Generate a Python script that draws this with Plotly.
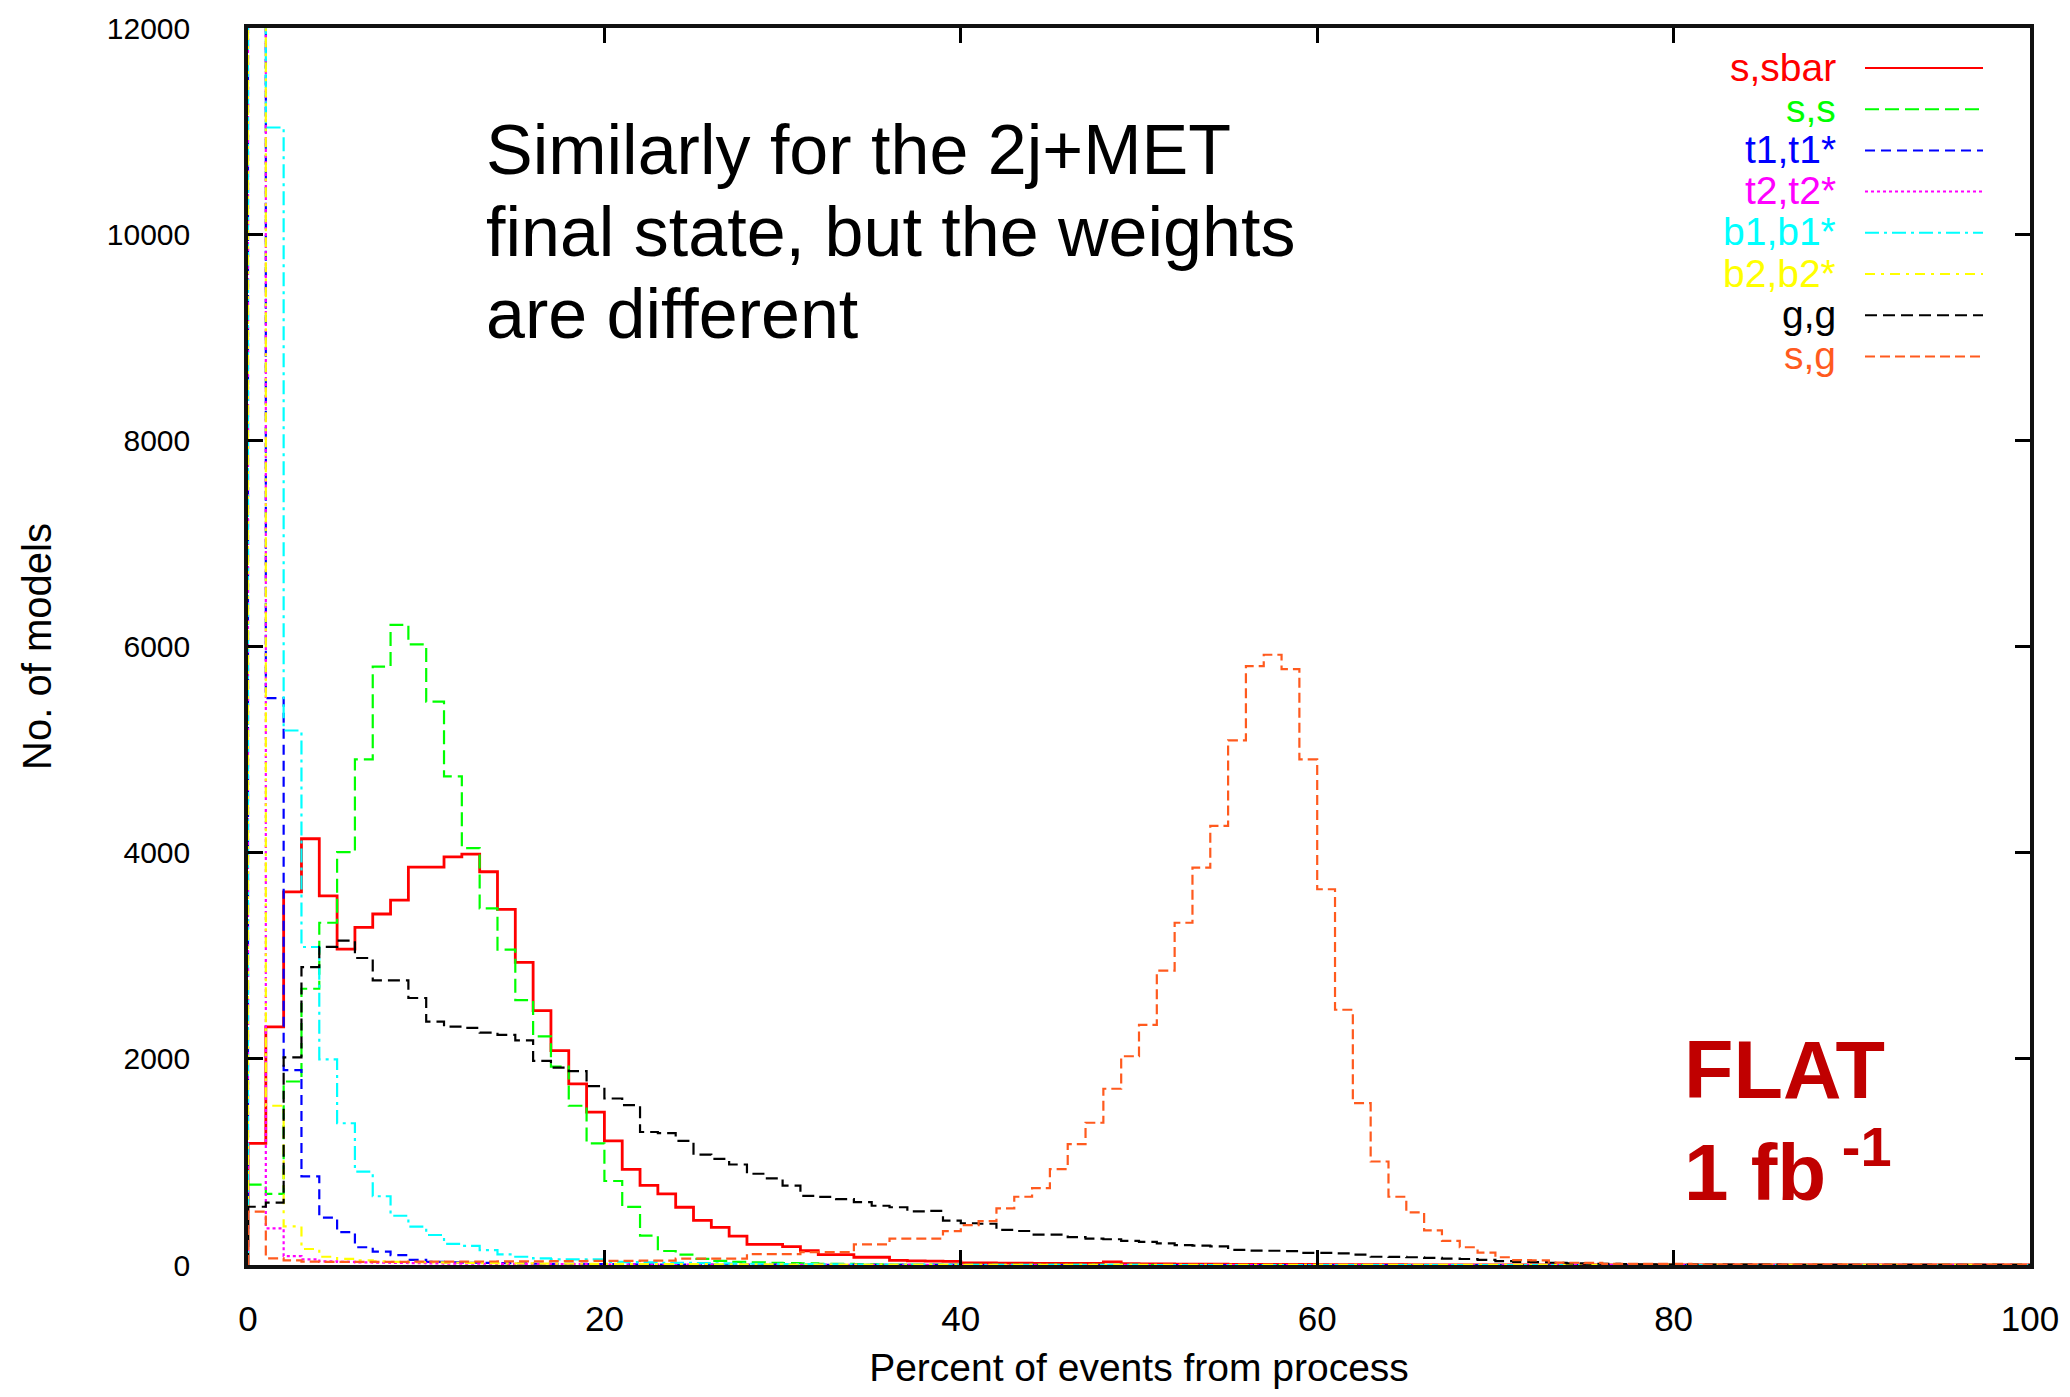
import plotly.graph_objects as go

# ---------------- data (bins of width 1 %, 0..100) ----------------
bin_edges = list(range(0, 101))

s_sbar = [1180, 2310, 3620, 4135, 3580, 3065, 3275, 3405, 3540, 3860,
          3860, 3960, 3985, 3815, 3450, 2935, 2467, 2080, 1758, 1483,
          1204, 928, 772, 690, 560, 432, 365, 280, 200, 200,
          178, 138, 100, 100, 75, 75, 45, 40, 38, 35,
          20, 20, 18, 18, 15, 15, 15, 15, 30, 12,
          10, 10, 8, 8, 8, 6, 6, 5, 5, 5,
          4, 4, 3, 3, 3, 2, 2, 2, 2, 1,
          1, 1, 1, 1, 1, 0, 0, 0, 0, 0,
          0, 0, 0, 0, 0, 0, 0, 0, 0, 0,
          0, 0, 0, 0, 0, 0, 0, 0, 0, 0]

s_s = [780, 690, 1780, 2680, 3320, 4005, 4905, 5805, 6210, 6020,
       5465, 4740, 4045, 3459, 3060, 2570, 2217, 1925, 1545, 1180,
       815, 563, 285, 136, 100, 60, 40, 30, 25, 22,
       18, 15, 12, 10, 8, 6, 5, 4, 3, 3,
       2, 2, 2, 2, 1, 1, 1, 1, 1, 1,
       0, 0, 0, 0, 0, 0, 0, 0, 0, 0,
       0, 0, 0, 0, 0, 0, 0, 0, 0, 0,
       0, 0, 0, 0, 0, 0, 0, 0, 0, 0,
       0, 0, 0, 0, 0, 0, 0, 0, 0, 0,
       0, 0, 0, 0, 0, 0, 0, 0, 0, 0]

t1_t1 = [15000, 5500, 1890, 860, 460, 318, 172, 130, 95, 50,
         30, 25, 22, 20, 18, 15, 12, 10, 10, 8,
         8, 6, 6, 5, 5, 4, 4, 3, 3, 3,
         2, 2, 2, 1, 1, 1, 1, 1, 1, 1,
         0, 0, 0, 0, 0, 0, 0, 0, 0, 0,
         0, 0, 0, 0, 0, 0, 0, 0, 0, 0,
         0, 0, 0, 0, 0, 0, 0, 0, 0, 0,
         0, 0, 0, 0, 0, 0, 0, 0, 0, 0,
         0, 0, 0, 0, 0, 0, 0, 0, 0, 0,
         0, 0, 0, 0, 0, 0, 0, 0, 0, 0]

t2_t2 = [25000, 356, 87, 55, 35, 30, 25, 22, 20, 18,
         15, 14, 13, 12, 11, 10, 9, 8, 8, 7,
         6, 6, 5, 5, 5, 4, 4, 4, 3, 3,
         2, 2, 2, 2, 1, 1, 1, 1, 1, 1,
         0, 0, 0, 0, 0, 0, 0, 0, 0, 0,
         0, 0, 0, 0, 0, 0, 0, 0, 0, 0,
         0, 0, 0, 0, 0, 0, 0, 0, 0, 0,
         0, 0, 0, 0, 0, 0, 0, 0, 0, 0,
         0, 0, 0, 0, 0, 0, 0, 0, 0, 0,
         0, 0, 0, 0, 0, 0, 0, 0, 0, 0]

b1_b1 = [18000, 11035, 5185, 3085, 1995, 1375, 905, 667, 478, 372,
         291, 205, 185, 145, 103, 80, 65, 55, 55, 55,
         30, 28, 25, 22, 20, 18, 15, 13, 12, 10,
         9, 8, 7, 6, 5, 4, 4, 3, 3, 2,
         2, 2, 1, 1, 1, 1, 1, 1, 1, 1,
         0, 0, 0, 0, 0, 0, 0, 0, 0, 0,
         0, 0, 0, 0, 0, 0, 0, 0, 0, 0,
         0, 0, 0, 0, 0, 0, 0, 0, 0, 0,
         0, 0, 0, 0, 0, 0, 0, 0, 0, 0,
         0, 0, 0, 0, 0, 0, 0, 0, 0, 0]

b2_b2 = [30000, 1545, 375, 155, 80, 60, 45, 35, 30, 28,
         25, 22, 20, 18, 16, 15, 14, 13, 12, 11,
         10, 10, 9, 9, 8, 8, 7, 7, 6, 6,
         5, 5, 5, 4, 4, 4, 3, 3, 3, 3,
         2, 2, 2, 2, 2, 2, 2, 2, 2, 2,
         1, 1, 1, 1, 1, 1, 1, 1, 1, 1,
         1, 1, 1, 1, 1, 1, 1, 1, 1, 1,
         1, 1, 1, 1, 1, 1, 1, 1, 1, 1,
         1, 1, 1, 1, 1, 1, 1, 1, 1, 1,
         1, 1, 1, 1, 1, 1, 1, 1, 1, 1]

g_g = [565, 605, 2015, 2890, 3087, 3147, 2978, 2762, 2762, 2590,
       2360, 2312, 2300, 2255, 2232, 2180, 1980, 1915, 1880, 1735,
       1615, 1550, 1290, 1280, 1205, 1070, 1030, 975, 885, 840,
       770, 670, 660, 640, 610, 575, 560, 520, 525, 430,
       405, 400, 340, 330, 295, 295, 270, 255, 250, 235,
       225, 210, 192, 187, 180, 147, 140, 138, 135, 118,
       118, 112, 100, 80, 78, 75, 70, 62, 58, 50,
       38, 30, 28, 22, 15, 12, 12, 8, 6, 5,
       5, 4, 4, 3, 3, 3, 2, 2, 2, 2,
       1, 1, 1, 1, 1, 1, 1, 1, 1, 1]

s_g = [517, 65, 45, 32, 30, 30, 30, 30, 30, 32,
       32, 33, 33, 34, 35, 35, 36, 37, 38, 40,
       40, 40, 42, 42, 62, 62, 62, 62, 105, 105,
       105, 125, 125, 125, 200, 200, 255, 255, 255, 328,
       387, 426, 549, 662, 745, 931, 1172, 1380, 1710, 2025,
       2330, 2855, 3320, 3855, 4260, 5090, 5810, 5920, 5780, 4905,
       3645, 2476, 1571, 1004, 662, 510, 336, 235, 172, 120,
       75, 48, 45, 23, 22, 20, 10, 10, 10, 10,
       10, 5, 5, 5, 5, 4, 4, 3, 3, 3,
       2, 2, 2, 2, 1, 1, 1, 1, 1, 1]

series_names = ["s,sbar", "s,s", "t1,t1*", "t2,t2*", "b1,b1*", "b2,b2*", "g,g", "s,g"]
series_values = [s_sbar, s_s, t1_t1, t2_t2, b1_b1, b2_b2, g_g, s_g]

x_ticks = [0, 20, 40, 60, 80, 100]
y_ticks = [0, 2000, 4000, 6000, 8000, 10000, 12000]

# ---------------- styles ----------------
colors = ["#ff0000", "#00ff00", "#0000ff", "#ff00ff", "#00ffff", "#ffff00", "#000000", "#ff5a1e"]
dashes = ["solid", "14px,6px", "10px,6px", "3px,3px", "14px,5px,3px,5px",
          "10px,6px,3px,6px", "12px,6px", "10px,5px"]
widths = [2.8, 2.2, 2.2, 2.2, 2.2, 2.2, 2.2, 2.2]

W, H = 2070, 1397
L, R, T, B = 248, 40, 28, 132
PW, PH = W - L - R, H - T - B


def px(x):
    return (x - L) / PW


def py(y):
    return (H - B - y) / PH


fig = go.Figure()
for name, vals, col, dsh, lw in zip(series_names, series_values, colors, dashes, widths):
    xs = [bin_edges[0]] + bin_edges[:-1] + [bin_edges[-1]]
    ys = [0] + list(vals) + [vals[-1]]
    fig.add_trace(go.Scatter(x=xs, y=ys, mode="lines", name=name,
                             line=dict(color=col, dash=dsh, width=lw, shape="hv"),
                             showlegend=False, hoverinfo="skip"))

font_main = "Liberation Sans, Arial, Helvetica, sans-serif"

fig.update_layout(
    width=W, height=H,
    margin=dict(l=L, r=R, t=T, b=B, autoexpand=False),
    paper_bgcolor="white", plot_bgcolor="white",
    font=dict(family=font_main, color="black"),
    xaxis=dict(range=[0, 100], tickvals=x_ticks, ticktext=[str(v) for v in x_ticks],
               ticks="inside", ticklen=15, tickwidth=3, tickcolor="black",
               showline=True, linecolor="#111111", linewidth=3.5, mirror="ticks",
               showgrid=False, zeroline=False,
               tickfont=dict(size=35, family=font_main), ticklabelstandoff=20,
               title=dict(text="Percent of events from process",
                          font=dict(size=39, family=font_main), standoff=18)),
    yaxis=dict(range=[0, 12000], tickvals=y_ticks, ticktext=[str(v) for v in y_ticks],
               ticks="inside", ticklen=15, tickwidth=3, tickcolor="black",
               showline=True, linecolor="#111111", linewidth=3.5, mirror="ticks",
               showgrid=False, zeroline=False,
               tickfont=dict(size=30, family=font_main), ticklabelstandoff=48,
               title=dict(text="No. of models",
                          font=dict(size=40, family=font_main), standoff=44)),
)

# ---------------- custom gnuplot-style legend (text right, sample on right) ----------------
leg_y0, leg_dy = 68, 41.2
for i, (name, col, dsh) in enumerate(zip(series_names, colors, dashes)):
    yy = leg_y0 + i * leg_dy
    fig.add_annotation(x=px(1838), y=py(yy - 1), xref="paper", yref="paper",
                       text=name, showarrow=False, xanchor="right", yanchor="middle",
                       font=dict(size=39, color=col, family=font_main))
    fig.add_shape(type="line", xref="paper", yref="paper",
                  x0=px(1865), x1=px(1983), y0=py(yy), y1=py(yy),
                  line=dict(color=col, dash=dsh, width=2))

# ---------------- text annotations ----------------
for txt, yc in [("Similarly for the 2j+MET", 150),
                ("final state, but the weights", 232),
                ("are different", 314)]:
    fig.add_annotation(x=px(484), y=py(yc), xref="paper", yref="paper", text=txt,
                       showarrow=False, xanchor="left", yanchor="middle",
                       font=dict(size=70, color="black", family=font_main))

fig.add_annotation(x=px(1682), y=py(1070), xref="paper", yref="paper",
                   text="<b>FLAT</b>", showarrow=False, xanchor="left", yanchor="middle",
                   font=dict(size=81, color="#c00000", family=font_main))
fig.add_annotation(x=px(1682), y=py(1166), xref="paper", yref="paper",
                   text="<b>1 fb<sup> -1</sup></b>", showarrow=False, xanchor="left", yanchor="middle",
                   font=dict(size=80, color="#c00000", family=font_main))

fig.write_html("out.html")
